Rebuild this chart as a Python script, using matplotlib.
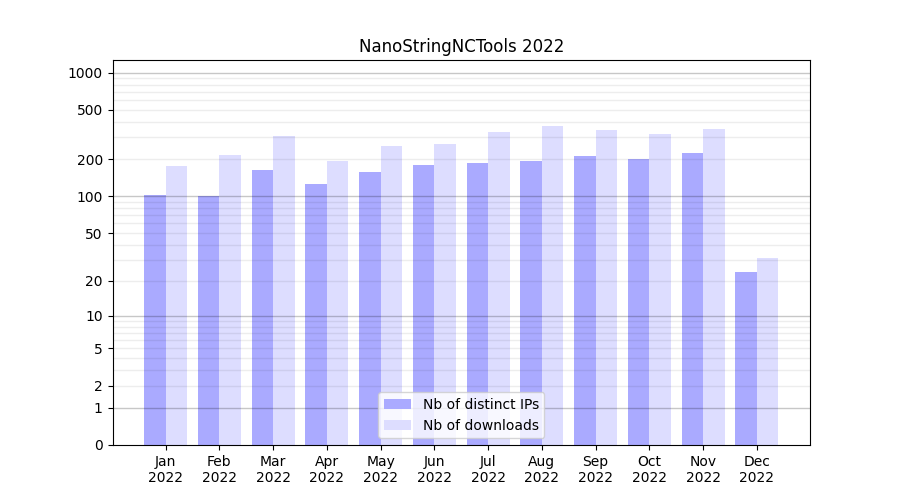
import numpy as np
import matplotlib
matplotlib.use('Agg')
import matplotlib.pyplot as plt

# Données mensuelles 2022
months    = ['Jan', 'Feb', 'Mar', 'Apr', 'May', 'Jun',
             'Jul', 'Aug', 'Sep', 'Oct', 'Nov', 'Dec']
year      = '2022'
ips       = [103, 100, 164, 126, 158, 180, 187, 194, 213, 201, 225, 24]
downloads = [177, 217, 309, 194, 257, 266, 333, 373, 346, 321, 352, 31]

ytick_vals = [0, 1, 2, 5, 10, 20, 50, 100, 200, 500, 1000]
major_grid = [1, 10, 100, 1000]
minor_grid = [m * d for d in (1, 10, 100) for m in range(2, 10)]


def fwd(y):
    return np.log10(1 + np.clip(y, 0, None))


def inv(y):
    return 10 ** y - 1


fig, ax = plt.subplots(figsize=(9, 5), dpi=100)
x = np.arange(len(months))
w = 0.4

ax.bar(x - w / 2, ips, width=w, color='#aaaaff', label='Nb of distinct IPs')
ax.bar(x + w / 2, downloads, width=w, color='#ddddff', label='Nb of downloads')

ax.set_yscale('function', functions=(fwd, inv))
ax.set_ylim(0, 1264)
ax.set_yticks(ytick_vals)
ax.set_yticklabels([str(v) for v in ytick_vals])
ax.yaxis.set_minor_locator(matplotlib.ticker.NullLocator())

# lignes de grille au-dessus des barres
for v in minor_grid:
    ax.axhline(v, color='black', alpha=0.07, linewidth=1, zorder=3)
for v in major_grid:
    ax.axhline(v, color='black', alpha=0.22, linewidth=1, zorder=3)

ax.set_xticks(x)
ax.set_xticklabels([f'{m}\n{year}' for m in months])
ax.set_title(f'NanoStringNCTools {year}')
ax.legend(loc='lower center')

fig.savefig('out.png')
